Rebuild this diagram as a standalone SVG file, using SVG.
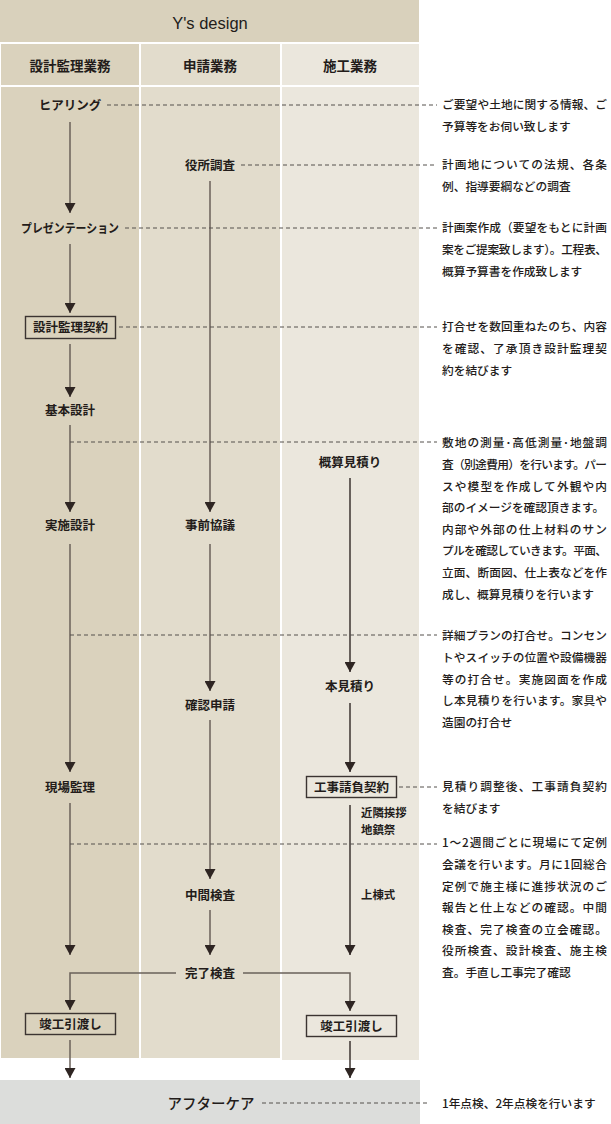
<svg xmlns="http://www.w3.org/2000/svg" width="611" height="1124" viewBox="0 0 611 1124">
<style>
.lbl{font-family:"Noto Sans CJK JP","Noto Sans CJK SC",sans-serif;font-size:12.5px;font-weight:700;fill:#231c1a;text-anchor:middle}
.hdr{font-family:"Noto Sans CJK JP","Noto Sans CJK SC",sans-serif;font-size:13.5px;font-weight:700;fill:#231c1a;text-anchor:middle}
.sm{font-family:"Noto Sans CJK JP","Noto Sans CJK SC",sans-serif;font-size:11.4px;font-weight:700;fill:#231c1a}
.desc{font-family:"Noto Sans CJK JP","Noto Sans CJK SC",sans-serif;font-size:11.7px;font-weight:500;fill:#231c1a}
.box{fill:none;stroke:#3b3431;stroke-width:1.4}
.ln{fill:none;stroke:#6a615a;stroke-width:1.5}
.ln3{fill:none;stroke:#3c3431;stroke-width:1.5}
.dash{fill:none;stroke:#55504c;stroke-width:1;stroke-dasharray:4 3}
</style>
<defs>
<marker id="ah" viewBox="0 0 10 11" refX="10" refY="5.5" markerWidth="10" markerHeight="11" markerUnits="userSpaceOnUse" orient="auto">
<path d="M0,0 L10,5.5 L0,11 z" fill="#2e2522"/>
</marker>
</defs>
<rect width="611" height="1124" fill="#ffffff"/>
<!-- background bands -->
<rect x="0" y="0" width="419" height="42" fill="#d9d1bc"/>
<rect x="1" y="44" width="138" height="41" fill="#dad2bd"/>
<rect x="141" y="44" width="139" height="41" fill="#e2dccc"/>
<rect x="282" y="44" width="137" height="41" fill="#ebe7dd"/>
<rect x="1" y="87" width="138" height="971" fill="#dad2bd"/>
<rect x="141" y="87" width="139" height="971" fill="#e2dccc"/>
<rect x="282" y="87" width="137" height="973" fill="#ebe7dd"/>
<rect x="0" y="1080" width="420" height="44" fill="#dcdddb"/>
<text x="210" y="28.5" text-anchor="middle" font-family="Liberation Sans, Arial, sans-serif" font-size="16.5" fill="#231c1a">Y's design</text>
<text class="hdr" x="70" y="71">設計監理業務</text>
<text class="hdr" x="210" y="71">申請業務</text>
<text class="hdr" x="350" y="71">施工業務</text>

<g id="connectors">
<path class="ln" d="M70,122 V213" marker-end="url(#ah)"/>
<path class="ln" d="M70,244 V313" marker-end="url(#ah)"/>
<path class="ln" d="M70,344 V397" marker-end="url(#ah)"/>
<path class="ln" d="M70,425 V512" marker-end="url(#ah)"/>
<path class="ln" d="M70,544 V772" marker-end="url(#ah)"/>
<path class="ln" d="M70,803 V955" marker-end="url(#ah)"/>
<path class="ln" d="M176,973 H70 V1010" marker-end="url(#ah)"/>
<path class="ln" d="M70,1040 V1078" marker-end="url(#ah)"/>
<path class="ln" d="M210,181 V512" marker-end="url(#ah)"/>
<path class="ln" d="M210,544 V691" marker-end="url(#ah)"/>
<path class="ln" d="M210,720 V879" marker-end="url(#ah)"/>
<path class="ln" d="M210,910 V955" marker-end="url(#ah)"/>
<path class="ln3" d="M350,478 V672" marker-end="url(#ah)"/>
<path class="ln3" d="M350,703 V772" marker-end="url(#ah)"/>
<path class="ln3" d="M350,805 V955" marker-end="url(#ah)"/>
<path class="ln" d="M243,973 H350 V1011" marker-end="url(#ah)"/>
<path class="ln3" d="M350,1041 V1078" marker-end="url(#ah)"/>
<path class="dash" d="M107,105 H437"/>
<path class="dash" d="M241,165 H437"/>
<path class="dash" d="M125,228 H437"/>
<path class="dash" d="M119,327 H437"/>
<path class="dash" d="M70,442 H437"/>
<path class="dash" d="M70,635 H437"/>
<path class="dash" d="M399,787 H437"/>
<path class="dash" d="M70,844 H437"/>
<path class="dash" d="M262,1103 H428"/>
</g>

<g id="n-hearing"><text class="lbl" x="70" y="109.7">ヒアリング</text></g>
<g id="n-yakusho"><text class="lbl" x="210" y="169.5">役所調査</text></g>
<g id="n-presen"><text class="lbl" x="70" y="232.7" textLength="98" lengthAdjust="spacingAndGlyphs">プレゼンテーション</text></g>
<g id="n-keiyaku"><rect class="box" x="25.5" y="316.5" width="90" height="22"/><text class="lbl" x="70.5" y="332">設計監理契約</text></g>
<g id="n-kihon"><text class="lbl" x="70" y="414.7">基本設計</text></g>
<g id="n-gaisan"><text class="lbl" x="350" y="466.7">概算見積り</text></g>
<g id="n-jisshi"><text class="lbl" x="70" y="530.4">実施設計</text></g>
<g id="n-jizen"><text class="lbl" x="210" y="530.4">事前協議</text></g>
<g id="n-honmitsumori"><text class="lbl" x="350" y="691.4">本見積り</text></g>
<g id="n-kakunin"><text class="lbl" x="210" y="709.7">確認申請</text></g>
<g id="n-genba"><text class="lbl" x="70" y="791.7">現場監理</text></g>
<g id="n-koji"><rect class="box" x="306.5" y="776.5" width="90" height="21"/><text class="lbl" x="351.5" y="791.5">工事請負契約</text></g>
<g id="n-kinrin"><text class="sm" x="361" y="816.8">近隣挨拶</text><text class="sm" x="361" y="833.5">地鎮祭</text></g>
<g id="n-chukan"><text class="lbl" x="210" y="899.7">中間検査</text></g>
<g id="n-joto"><text class="sm" x="361" y="899.4">上棟式</text></g>
<g id="n-kanryo"><text class="lbl" x="210" y="977.7">完了検査</text></g>
<g id="n-shunko1"><rect class="box" x="25.5" y="1013.5" width="90" height="21"/><text class="lbl" x="70.5" y="1028.5">竣工引渡し</text></g>
<g id="n-shunko3"><rect class="box" x="306.5" y="1015.5" width="90" height="21"/><text class="lbl" x="351.5" y="1030.5">竣工引渡し</text></g>
<g id="n-aftercare"><text class="lbl" x="211" y="1108.5" style="font-size:14.5px;font-weight:500">アフターケア</text></g>

<g id="d-hearing" class="desc">
<text x="442" y="109.4" textLength="165" lengthAdjust="spacing">ご要望や土地に関する情報、ご</text>
<text x="442" y="131">予算等をお伺い致します</text>
</g>
<g id="d-yakusho" class="desc">
<text x="442" y="169.4" textLength="165" lengthAdjust="spacing">計画地についての法規、各条</text>
<text x="442" y="191">例、指導要綱などの調査</text>
</g>
<g id="d-presen" class="desc">
<text x="442" y="232.4" textLength="165" lengthAdjust="spacing">計画案作成（要望をもとに計画</text>
<text x="442" y="254" textLength="165" lengthAdjust="spacing">案をご提案致します）。工程表、</text>
<text x="442" y="275.6">概算予算書を作成致します</text>
</g>
<g id="d-keiyaku" class="desc">
<text x="442" y="331.4" textLength="165" lengthAdjust="spacing">打合せを数回重ねたのち、内容</text>
<text x="442" y="353" textLength="165" lengthAdjust="spacing">を確認、了承頂き設計監理契</text>
<text x="442" y="374.6">約を結びます</text>
</g>
<g id="d-kihon" class="desc">
<text x="442" y="447.4" textLength="165" lengthAdjust="spacing">敷地の測量･高低測量･地盤調</text>
<text x="442" y="469" textLength="165" lengthAdjust="spacing">査（別途費用）を行います。パー</text>
<text x="442" y="490.6" textLength="165" lengthAdjust="spacing">スや模型を作成して外観や内</text>
<text x="442" y="512.2">部のイメージを確認頂きます。</text>
<text x="442" y="533.8" textLength="165" lengthAdjust="spacing">内部や外部の仕上材料のサン</text>
<text x="442" y="555.4" textLength="165" lengthAdjust="spacing">プルを確認していきます。平面、</text>
<text x="442" y="577" textLength="165" lengthAdjust="spacing">立面、断面図、仕上表などを作</text>
<text x="442" y="598.6">成し、概算見積りを行います</text>
</g>
<g id="d-jisshi" class="desc">
<text x="442" y="640.4" textLength="165" lengthAdjust="spacing">詳細プランの打合せ。コンセン</text>
<text x="442" y="662" textLength="165" lengthAdjust="spacing">トやスイッチの位置や設備機器</text>
<text x="442" y="683.6" textLength="165" lengthAdjust="spacing">等の打合せ。実施図面を作成</text>
<text x="442" y="705.2" textLength="165" lengthAdjust="spacing">し本見積りを行います。家具や</text>
<text x="442" y="726.8">造園の打合せ</text>
</g>
<g id="d-koji" class="desc">
<text x="442" y="791.4" textLength="165" lengthAdjust="spacing">見積り調整後、工事請負契約</text>
<text x="442" y="813">を結びます</text>
</g>
<g id="d-genba" class="desc">
<text x="442" y="847.4" textLength="165" lengthAdjust="spacing">1〜2週間ごとに現場にて定例</text>
<text x="442" y="869" textLength="165" lengthAdjust="spacing">会議を行います。月に1回総合</text>
<text x="442" y="890.6" textLength="165" lengthAdjust="spacing">定例で施主様に進捗状況のご</text>
<text x="442" y="912.2" textLength="165" lengthAdjust="spacing">報告と仕上などの確認。中間</text>
<text x="442" y="933.8" textLength="165" lengthAdjust="spacing">検査、完了検査の立会確認。</text>
<text x="442" y="955.4" textLength="165" lengthAdjust="spacing">役所検査、設計検査、施主検</text>
<text x="442" y="977">査。手直し工事完了確認</text>
</g>
<g id="d-aftercare" class="desc">
<text x="442" y="1108">1年点検、2年点検を行います</text>
</g>
</svg>
